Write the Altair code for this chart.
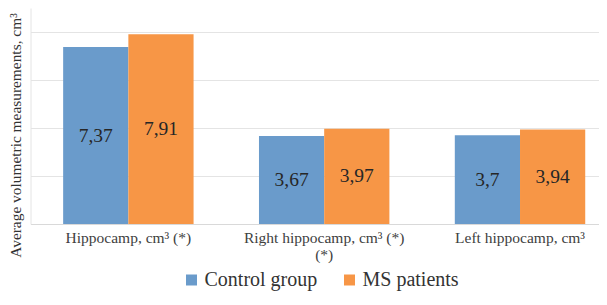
import altair as alt
import pandas as pd

categories = ["Hippocamp, cm³ (*)", "Right hippocamp, cm³ (*)|(*)", "Left hippocamp, cm³"]
# tick labels as drawn (non-breaking spaces nudge the centring like the original)
tick_labels = [
    "\u00a0\u00a0\u00a0\u00a0Hippocamp, cm³ (*)",
    "Right hippocamp, cm³ (*)\u00a0\u00a0|(*)",
    "Left hippocamp, cm³\u00a0\u00a0\u00a0\u00a0\u00a0",
]
groups = ["Control group", "MS patients"]
control_values = [7.37, 3.67, 3.70]
ms_values = [7.91, 3.97, 3.94]
control_labels = ["7,37", "3,67", "3,7"]
ms_labels = ["7,91", "3,97", "3,94"]
colors = ["#6A9BCB", "#F79646"]

rows = []
for i, c in enumerate(categories):
    rows.append({"cat": c, "group": groups[0], "value": control_values[i], "label": control_labels[i]})
    rows.append({"cat": c, "group": groups[1], "value": ms_values[i], "label": ms_labels[i]})
df = pd.DataFrame(rows)

FONT = "Liberation Serif, Times New Roman, serif"

label_map = "{" + ", ".join(
    '"%s": "%s"' % (c, t) for c, t in zip(categories, tick_labels)
) + "}"

x_enc = alt.X(
    "cat:N",
    sort=categories,
    scale=alt.Scale(domain=categories, paddingInner=0.334, paddingOuter=0.11725, align=0.711),
    axis=alt.Axis(
        title=None, labelAngle=0, ticks=False, domain=True, domainColor="#D9D9D9",
        labelFont=FONT, labelFontSize=15.5, labelColor="#404040", labelPadding=6,
        labelLineHeight=17,
        labelExpr="split(" + label_map + "[datum.label], '|')",
        labelLimit=400, labelOverlap=False, grid=False,
    ),
)
xo_enc = alt.XOffset("group:N", scale=alt.Scale(domain=groups, paddingInner=0, paddingOuter=0))

bars = alt.Chart(df).mark_bar().encode(
    x=x_enc,
    xOffset=xo_enc,
    y=alt.Y(
        "value:Q",
        scale=alt.Scale(domain=[0, 9], nice=False),
        axis=alt.Axis(
            values=list(range(10)), labels=False, ticks=False, grid=True,
            gridColor="#E4E4E4", domain=True, domainColor="#E4E4E4",
            title="Average volumetric measurements, cm³", titleFont=FONT,
            titleFontSize=15.4, titleFontWeight="normal", titleColor="#333333",
            titleX=-15, titleY=127, titleAngle=270, titleAlign="center",
            titleBaseline="middle",
        ),
    ),
    color=alt.Color(
        "group:N",
        scale=alt.Scale(domain=groups, range=colors),
        legend=alt.Legend(
            title=None, orient="none", legendX=151, legendY=262, direction="horizontal",
            symbolType="square", symbolSize=121, symbolStrokeWidth=0,
            labelFont=FONT, labelFontSize=20, labelColor="#333333",
            labelOffset=3, columnPadding=22, labelLimit=300,
        ),
    ),
)

text = alt.Chart(df).transform_calculate(mid="datum.value / 2").mark_text(
    font=FONT, fontSize=19.5, color="#262626", baseline="middle", align="center"
).encode(
    x=x_enc,
    xOffset=xo_enc,
    y=alt.Y("mid:Q", scale=alt.Scale(domain=[0, 9], nice=False)),
    text="label:N",
)

chart = alt.layer(bars, text).properties(
    width=568,
    height=216,
    autosize=alt.AutoSizeParams(type="none"),
    padding={"left": 22.5, "top": 0, "right": 0, "bottom": 68},
).configure(font=FONT).configure_view(stroke=None)

chart.save("out.html", embed_options={"renderer": "svg", "actions": False})
